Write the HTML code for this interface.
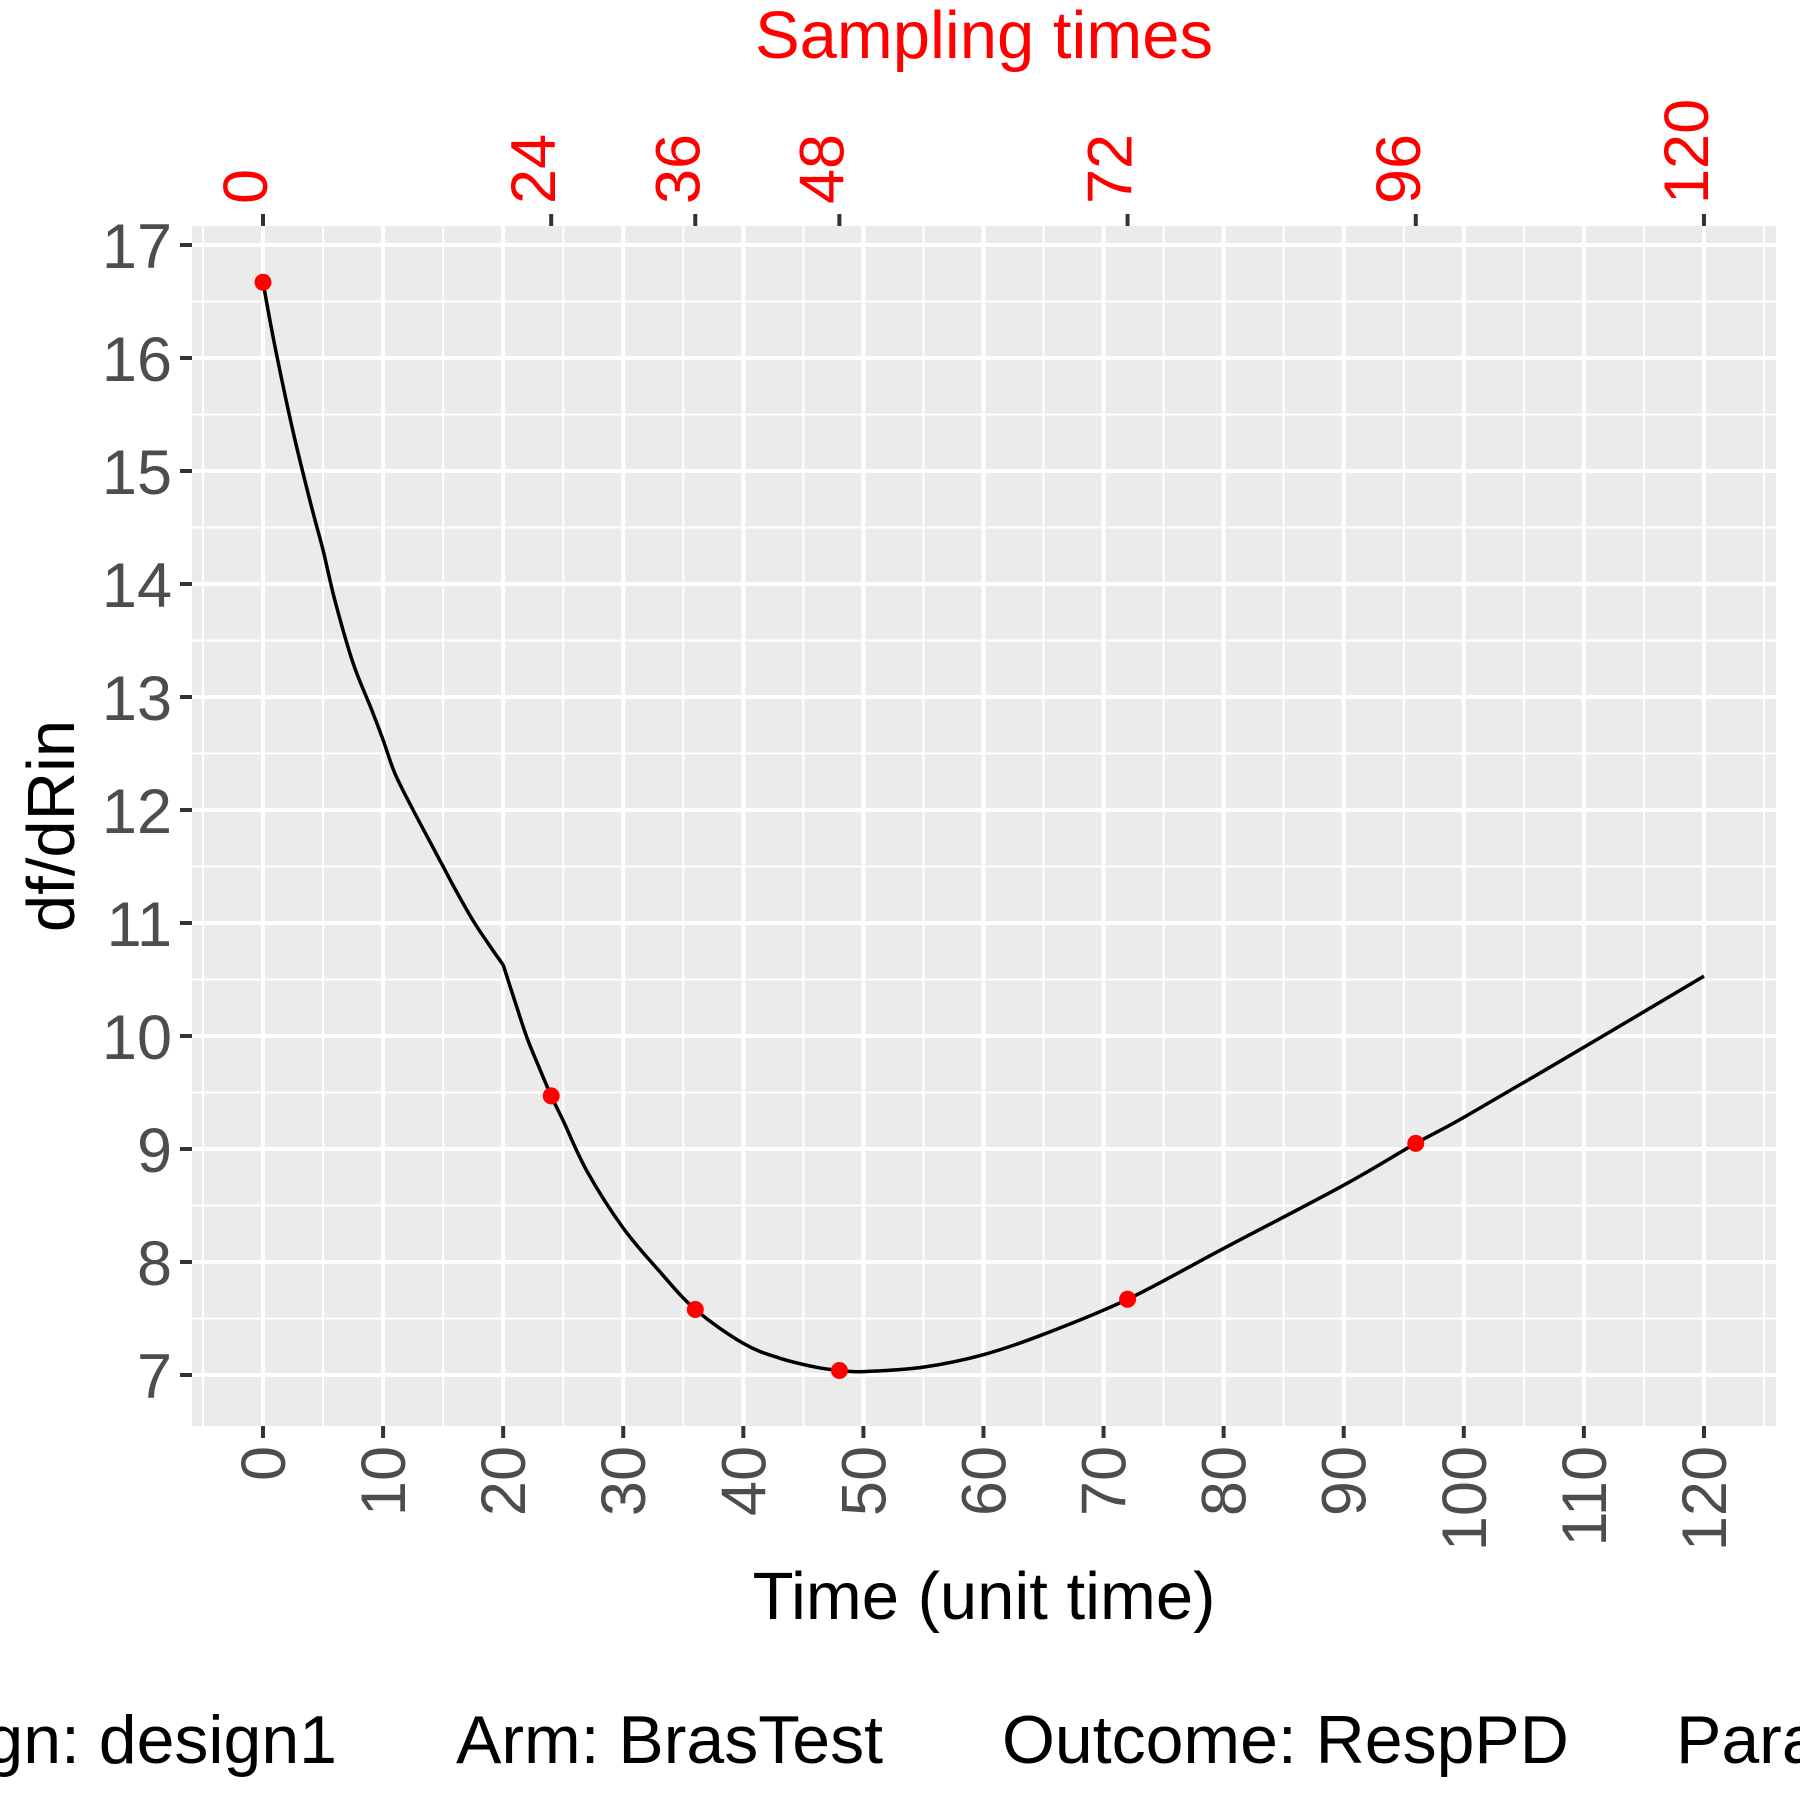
<!DOCTYPE html>
<html><head><meta charset="utf-8"><style>
html,body{margin:0;padding:0;background:#fff;width:1800px;height:1800px;overflow:hidden}
svg text{font-family:"Liberation Sans",sans-serif}
</style></head><body>
<svg id="chart" width="1800" height="1800" viewBox="0 0 1800 1800" xmlns="http://www.w3.org/2000/svg">
<rect x="192" y="226" width="1584" height="1200" fill="#ebebeb"/>
<g id="grid"></g>
<g id="axes"></g>
<g id="marks"></g>
<text x="984" y="58" text-anchor="middle" font-size="67" fill="#ff0000">Sampling times</text>
<text x="984" y="1619" text-anchor="middle" font-size="67" fill="#000">Time (unit time)</text>
<text transform="translate(74,826) rotate(-90)" text-anchor="middle" font-size="67" fill="#000">df/dRin</text>
<g font-size="68" fill="#000">
<text x="337" y="1763" text-anchor="end">Design: design1</text>
<text x="456" y="1763">Arm: BrasTest</text>
<text x="1002" y="1763">Outcome: RespPD</text>
<text x="1676" y="1763">Parameter</text>
</g>
</svg>
<script>
const times = [0,1,2.5,4,5,6,7.5,9,10,11,12.5,14,15,16,17.5,19,20,21,22,23,24,25,27,30,33,36,40,43,46,48,50,55,60,65,72,80,90,96,100,110,120];
const values = [16.67,16.1,15.35,14.7,14.3,13.85,13.3,12.9,12.62,12.32,12.0,11.7,11.5,11.3,11.02,10.78,10.63,10.3,9.98,9.72,9.47,9.25,8.8,8.3,7.92,7.58,7.28,7.15,7.07,7.04,7.03,7.07,7.18,7.36,7.67,8.12,8.68,9.05,9.28,9.9,10.53];
const sampleTimes = [0,24,36,48,72,96];
const sampleValues = [16.67,9.47,7.58,7.04,7.67,9.05];
const topTicks = [0,24,36,48,72,96,120];
const xTicks = [0,10,20,30,40,50,60,70,80,90,100,110,120];
const yTicks = [7,8,9,10,11,12,13,14,15,16,17];
const kinkTime = 20;

const NS = "http://www.w3.org/2000/svg";
const X0 = 263, XS = 12.008, Y7 = 1375, YS = 113;
function sx(t){ return X0 + t*XS; }
function sy(v){ return Y7 - (v-7)*YS; }
const PL=192, PR=1776, PT=226, PB=1426;
function mk(tag, attrs, parent){ const e=document.createElementNS(NS,tag); for(const k in attrs) e.setAttribute(k,attrs[k]); parent.appendChild(e); return e; }
const grid=document.getElementById('grid'), axes=document.getElementById('axes'), marks=document.getElementById('marks');

for(let t=-5;t<=125;t+=10){ const l=mk('line',{x1:sx(t),x2:sx(t),y1:PT,y2:PB,stroke:'#fff','stroke-width':2},grid);

 }
for(let v=6.5;v<=17.5;v+=1){ if(sy(v)<PT||sy(v)>PB) continue; const l=mk('line',{x1:PL,x2:PR,y1:sy(v),y2:sy(v),stroke:'#fff','stroke-width':2},grid);

 }
xTicks.forEach(t=>{
 const l=mk('line',{x1:sx(t),x2:sx(t),y1:PT,y2:PB,stroke:'#fff','stroke-width':4},grid);
 
 
 const tk=mk('line',{x1:sx(t),x2:sx(t),y1:PB,y2:PB+12,stroke:'#333','stroke-width':4},axes);
 
 
 const tx=mk('text',{transform:`translate(${sx(t)+22},${PB+20}) rotate(-90)`,'text-anchor':'end','font-size':63,fill:'#4d4d4d'},axes);
 tx.textContent=t;
 
 
});
yTicks.forEach(v=>{
 const l=mk('line',{x1:PL,x2:PR,y1:sy(v),y2:sy(v),stroke:'#fff','stroke-width':4},grid);
 
 
 const tk=mk('line',{x1:PL-12,x2:PL,y1:sy(v),y2:sy(v),stroke:'#333','stroke-width':4},axes);
 
 
 const tx=mk('text',{x:PL-20,y:sy(v)+23,'text-anchor':'end','font-size':63,fill:'#4d4d4d'},axes);
 tx.textContent=v;
 
 
});
topTicks.forEach(t=>{
 const tk=mk('line',{x1:sx(t),x2:sx(t),y1:PT-12,y2:PT,stroke:'#333','stroke-width':4},axes);
 
 
 const tx=mk('text',{transform:`translate(${sx(t)+4},${PT-22}) rotate(-90)`,'text-anchor':'start','font-size':63,fill:'#ff0000'},axes);
 tx.textContent=t;
 
 
});
// smooth curve, split at kink
function smooth(pts){
 let d=`M${pts[0][0]},${pts[0][1]}`;
 for(let i=0;i<pts.length-1;i++){
  const p0=pts[Math.max(0,i-1)],p1=pts[i],p2=pts[i+1],p3=pts[Math.min(pts.length-1,i+2)];
  const c1=[p1[0]+(p2[0]-p0[0])/6,p1[1]+(p2[1]-p0[1])/6], c2=[p2[0]-(p3[0]-p1[0])/6,p2[1]-(p3[1]-p1[1])/6];
  d+=` C${c1[0]},${c1[1]} ${c2[0]},${c2[1]} ${p2[0]},${p2[1]}`;
 }
 return d;
}
const allPts=times.map((t,i)=>[sx(t),sy(values[i])]);
const k=times.indexOf(kinkTime);
const d=smooth(allPts.slice(0,k+1))+' '+smooth(allPts.slice(k));
const path=mk('path',{d:d,fill:'none',stroke:'#000','stroke-width':3.5,'stroke-linejoin':'round'},marks);


sampleTimes.forEach((t,i)=>{
 const c=mk('circle',{cx:sx(t),cy:sy(sampleValues[i]),r:8.5,fill:'#ff0000'},marks);
 
 
});
</script>
</body></html>
